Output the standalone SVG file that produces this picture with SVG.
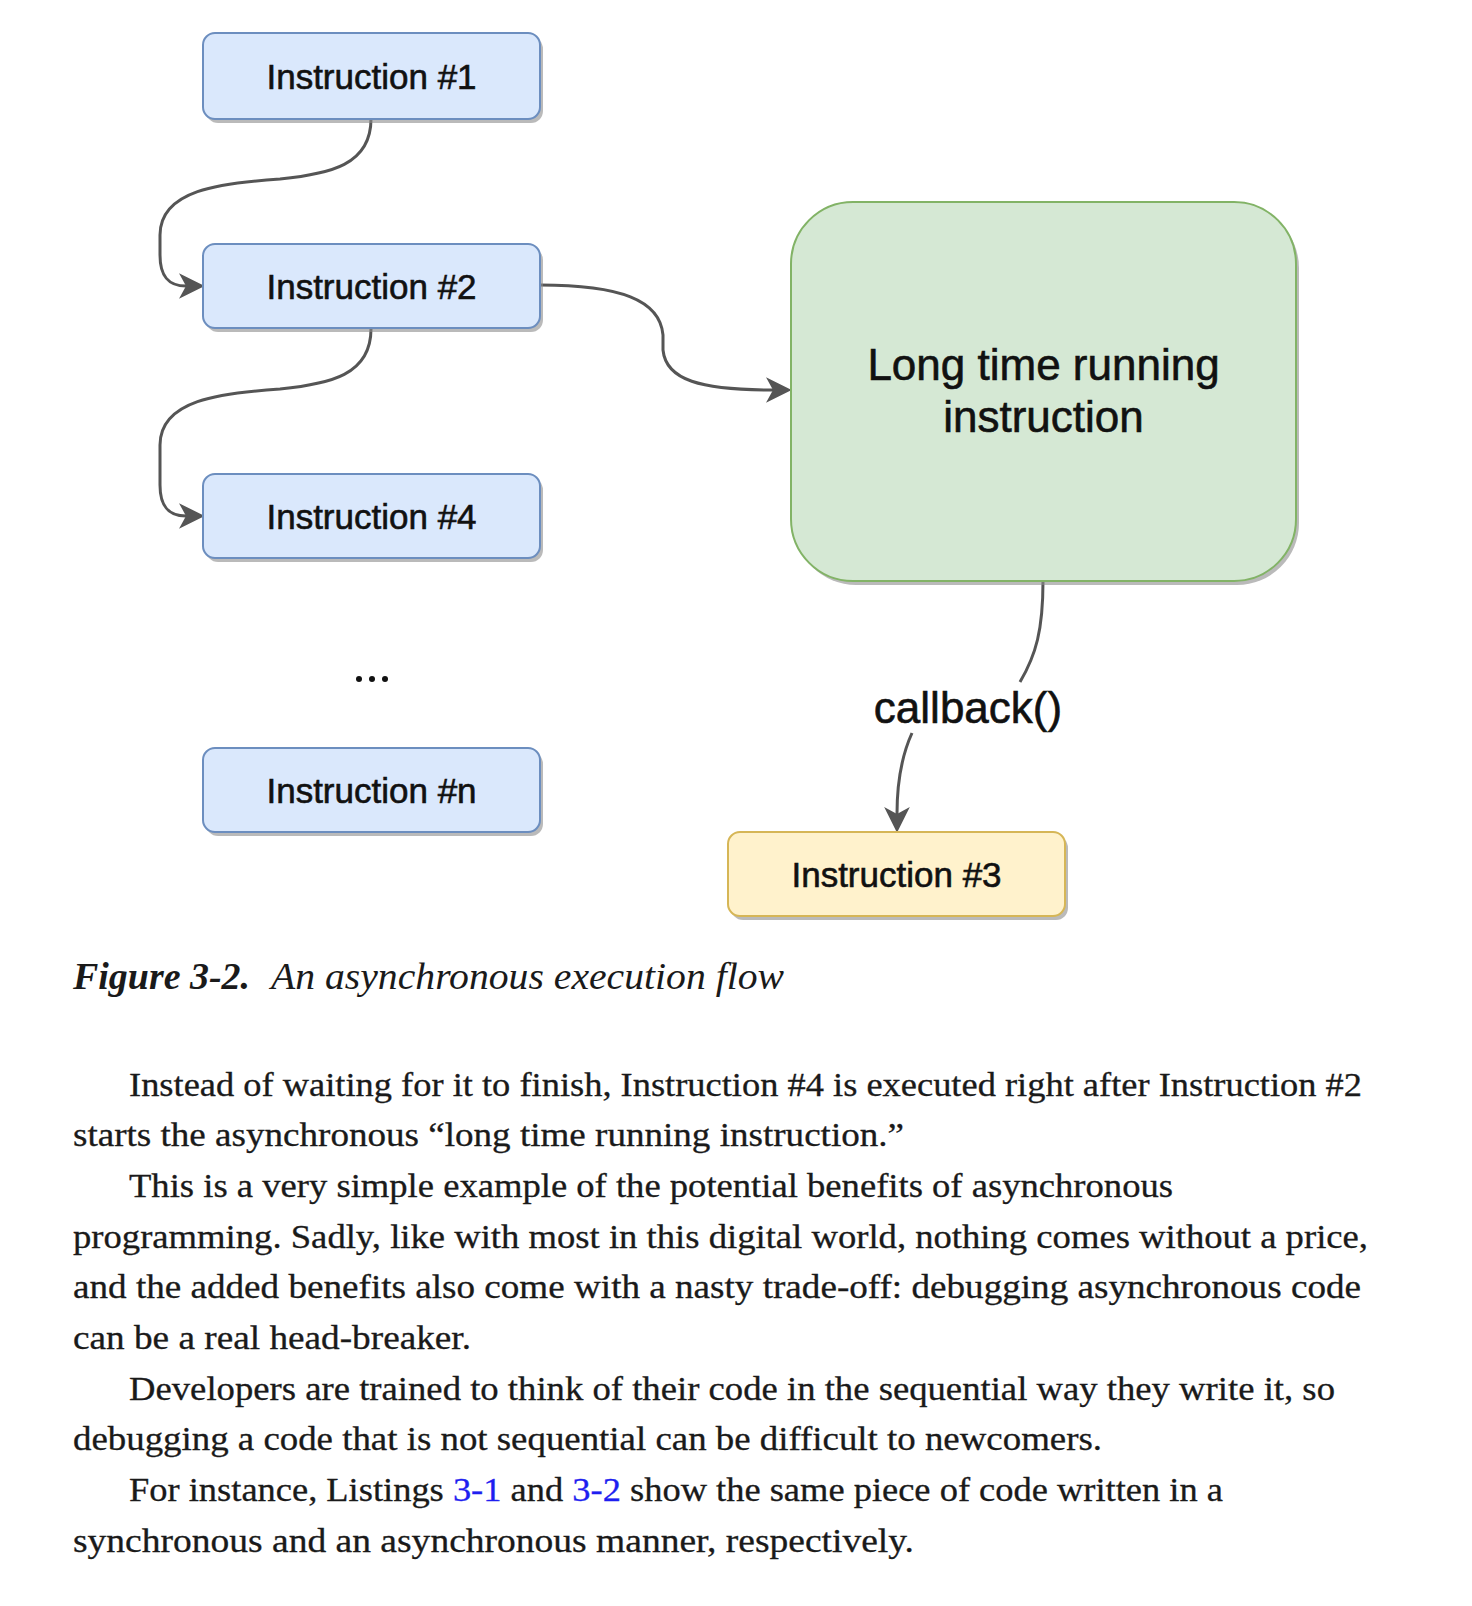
<svg xmlns="http://www.w3.org/2000/svg" width="1472" height="1606" viewBox="0 0 1472 1606">
<style>
.shadow{fill:#8c8c8c;opacity:0.6}
.blue{fill:#dae8fc;stroke:#6c8ebf;stroke-width:2}
.green{fill:#d5e8d4;stroke:#82b366;stroke-width:2}
.yellow{fill:#fff2cc;stroke:#d6b656;stroke-width:2}
.lbl{font-family:"Liberation Sans",Arial,sans-serif;font-size:35px;fill:#111;stroke:#111;stroke-width:0.6;text-anchor:middle}
.big{font-family:"Liberation Sans",Arial,sans-serif;font-size:44px;fill:#111;stroke:#111;stroke-width:0.6;text-anchor:middle}
.edge{fill:none;stroke:#555;stroke-width:3}
.body{font-family:"Liberation Serif","Times New Roman",serif;font-size:33px;fill:#1a1a1a;stroke:#1a1a1a;stroke-width:0.3}
.cap{font-family:"Liberation Serif","Times New Roman",serif;font-size:38px;fill:#1a1a1a;font-style:italic}
.link{fill:#1e1ef0;stroke:#1e1ef0}
</style>
<defs>
<marker id="arr" markerUnits="userSpaceOnUse" markerWidth="28" markerHeight="28" viewBox="0 0 24 24" refX="7" refY="12" orient="auto">
<path d="M1,1 L23,12 L1,23 L7,12 Z" fill="#555"/>
</marker>
</defs>
<rect width="1472" height="1606" fill="#fff"/>

<g id="connectors">
<path class="edge" d="M371,119 C371,165 330,174 280,179 C220,183 160,190 160,235 L160,255 C160,276 168,286 186,286" marker-end="url(#arr)"/>
<path class="edge" d="M371,329 C371,375 330,384 280,389 C220,393 160,400 160,445 L160,485 C160,506 168,516 186,516" marker-end="url(#arr)"/>
<path class="edge" d="M540,285 C620,285 660,300 663,335 L663,350 C666,380 700,390 773,390" marker-end="url(#arr)"/>
<path class="edge" d="M1043,581 C1043,630 1036,655 1020,682"/>
<path class="edge" d="M912,733 C902,755 897,780 897,814" marker-end="url(#arr)"/>
<text class="big" x="968" y="723">callback()</text>
</g>

<g id="instr1">
<rect class="shadow" x="206" y="37" width="337" height="86" rx="12"/>
<rect class="blue" x="203" y="33" width="337" height="86" rx="12"/>
<text class="lbl" x="371.5" y="89">Instruction #1</text>
</g>
<g id="instr2">
<rect class="shadow" x="206" y="248" width="337" height="84" rx="12"/>
<rect class="blue" x="203" y="244" width="337" height="84" rx="12"/>
<text class="lbl" x="371.5" y="299">Instruction #2</text>
</g>
<g id="instr4">
<rect class="shadow" x="206" y="478" width="337" height="84" rx="12"/>
<rect class="blue" x="203" y="474" width="337" height="84" rx="12"/>
<text class="lbl" x="371.5" y="529">Instruction #4</text>
</g>
<g id="dots">
<circle cx="359" cy="679" r="3" fill="#111"/>
<circle cx="372" cy="679" r="3" fill="#111"/>
<circle cx="385" cy="679" r="3" fill="#111"/>
</g>
<g id="instrN">
<rect class="shadow" x="206" y="752" width="337" height="84" rx="12"/>
<rect class="blue" x="203" y="748" width="337" height="84" rx="12"/>
<text class="lbl" x="371.5" y="803">Instruction #n</text>
</g>
<g id="longRunning">
<rect class="shadow" x="794" y="206" width="505" height="379" rx="62"/>
<rect class="green" x="791" y="202" width="505" height="379" rx="62"/>
<text class="big" x="1043.5" y="380">Long time running</text>
<text class="big" x="1043.5" y="432">instruction</text>
</g>
<g id="instr3">
<rect class="shadow" x="731" y="836" width="337" height="84" rx="12"/>
<rect class="yellow" x="728" y="832" width="337" height="84" rx="12"/>
<text class="lbl" x="896.5" y="887">Instruction #3</text>
</g>

<g id="caption">
<text class="cap" x="73" y="989"><tspan font-weight="bold" textLength="177" lengthAdjust="spacingAndGlyphs">Figure 3-2.</tspan></text>
<text class="cap" x="271" y="989" textLength="513" lengthAdjust="spacingAndGlyphs">An asynchronous execution flow</text>
</g>

<g id="bodytext">
<text class="body" x="129" y="1096" textLength="1233" lengthAdjust="spacingAndGlyphs">Instead of waiting for it to finish, Instruction #4 is executed right after Instruction #2</text>
<text class="body" x="73" y="1146" textLength="831" lengthAdjust="spacingAndGlyphs">starts the asynchronous “long time running instruction.”</text>
<text class="body" x="129" y="1197" textLength="1044" lengthAdjust="spacingAndGlyphs">This is a very simple example of the potential benefits of asynchronous</text>
<text class="body" x="73" y="1248" textLength="1295" lengthAdjust="spacingAndGlyphs">programming. Sadly, like with most in this digital world, nothing comes without a price,</text>
<text class="body" x="73" y="1298" textLength="1288" lengthAdjust="spacingAndGlyphs">and the added benefits also come with a nasty trade-off: debugging asynchronous code</text>
<text class="body" x="73" y="1349" textLength="398" lengthAdjust="spacingAndGlyphs">can be a real head-breaker.</text>
<text class="body" x="129" y="1400" textLength="1206" lengthAdjust="spacingAndGlyphs">Developers are trained to think of their code in the sequential way they write it, so</text>
<text class="body" x="73" y="1450" textLength="1029" lengthAdjust="spacingAndGlyphs">debugging a code that is not sequential can be difficult to newcomers.</text>
<text class="body" x="129" y="1501" textLength="1094" lengthAdjust="spacingAndGlyphs">For instance, Listings <tspan class="link">3-1</tspan> and <tspan class="link">3-2</tspan> show the same piece of code written in a</text>
<text class="body" x="73" y="1552" textLength="841" lengthAdjust="spacingAndGlyphs">synchronous and an asynchronous manner, respectively.</text>
</g>
</svg>
